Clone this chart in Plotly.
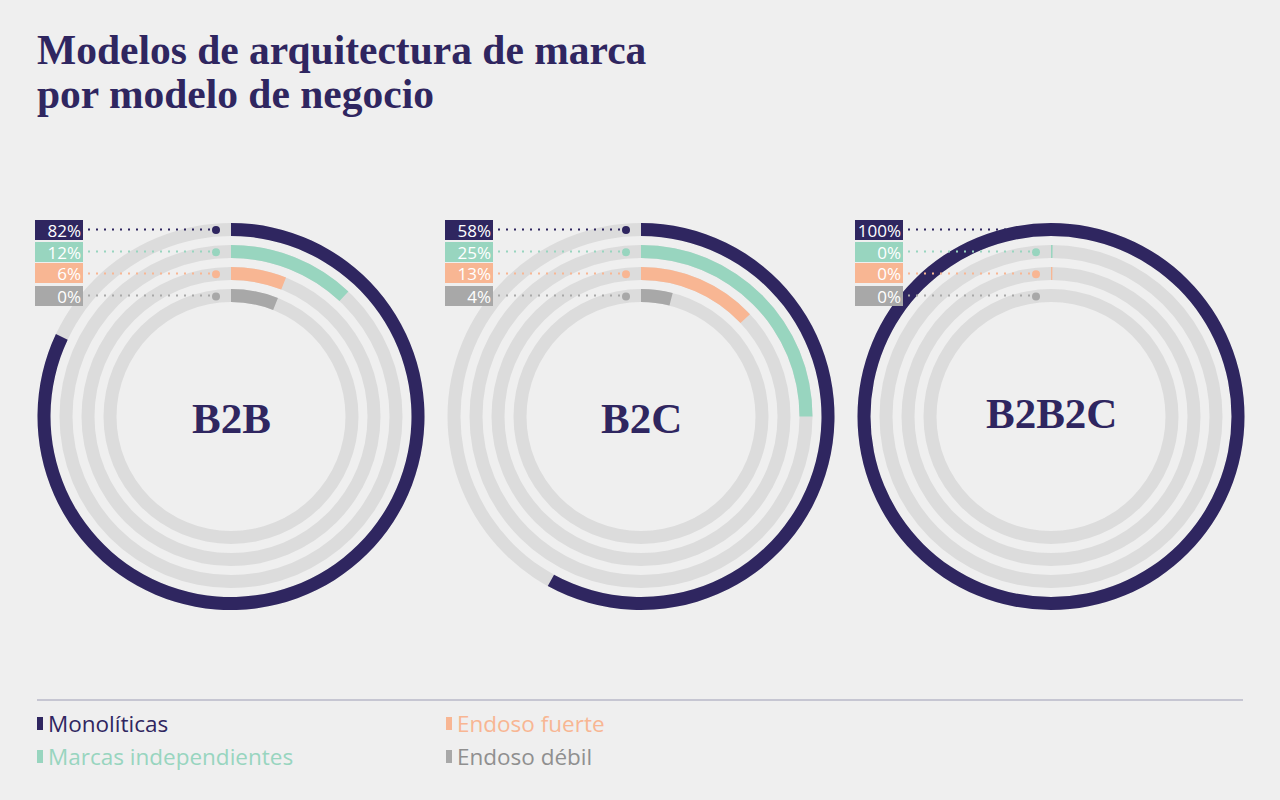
import math
import plotly.graph_objects as go

# ---------------- data ----------------
title_lines = ["Modelos de arquitectura de marca", "por modelo de negocio"]
models = ["B2B", "B2C", "B2B2C"]
series = ["Monolíticas", "Marcas independientes", "Endoso fuerte", "Endoso débil"]

# percentages printed in the label boxes
b2b_labels = [82, 12, 6, 0]
b2c_labels = [58, 25, 13, 4]
b2b2c_labels = [100, 0, 0, 0]

# arc lengths as drawn (percent of full circle)
b2b_arcs = [82, 12, 6, 6]
b2c_arcs = [58, 25, 13, 4]
b2b2c_arcs = [100, 0.15, 0.15, 0]

# ---------------- style ----------------
W, H = 1280, 800
BG = "#efefef"
NAVY = "#2f2660"
GREEN = "#98d5bf"
ORANGE = "#f8b693"
GRAY = "#a8a8a8"
TRACK = "#dcdcdc"
series_colors = [NAVY, GREEN, ORANGE, GRAY]
legend_text_colors = [NAVY, GREEN, ORANGE, "#8f8f8f"]

SERIF = "Liberation Serif"
SANS = "Open Sans"

centers_x = [231, 641, 1051]
center_y = 416.5
ring_r = [187, 165, 143, 121]
ring_w = 13
R_AX = 200
DOT_DX = 15
model_text_y = [418, 418, 413]

labels_all = [b2b_labels, b2c_labels, b2b2c_labels]
arcs_all = [b2b_arcs, b2c_arcs, b2b2c_arcs]


def px(x):
    return x / W


def py(y):
    return 1 - y / H


fig = go.Figure()
layout_polars = {}
shapes = []
annotations = []

for i, m in enumerate(models):
    sp = "polar" if i == 0 else f"polar{i + 1}"
    cx = centers_x[i]
    bases = [rr - ring_w / 2 for rr in ring_r]
    # background tracks
    fig.add_trace(go.Barpolar(
        r=[ring_w] * 4, base=bases, theta=[180] * 4, width=[360] * 4,
        marker=dict(color=TRACK, line=dict(width=0)),
        subplot=sp, showlegend=False, hoverinfo="skip"))
    # value arcs
    vals = arcs_all[i]
    fig.add_trace(go.Barpolar(
        r=[ring_w] * 4, base=bases,
        theta=[v * 3.6 / 2 for v in vals], width=[v * 3.6 for v in vals],
        marker=dict(color=series_colors, line=dict(width=0)),
        subplot=sp, showlegend=False,
        customdata=labels_all[i], hovertemplate="%{customdata}%<extra></extra>"))
    # leader-line end dots
    fig.add_trace(go.Scatterpolar(
        r=ring_r, theta=[-math.degrees(math.asin(DOT_DX / rr)) for rr in ring_r],
        mode="markers", marker=dict(size=8, color=series_colors, line=dict(width=0)),
        subplot=sp, showlegend=False, hoverinfo="skip"))

    layout_polars[sp] = dict(
        domain=dict(x=[px(cx - R_AX), px(cx + R_AX)],
                    y=[py(center_y + R_AX), py(center_y - R_AX)]),
        bgcolor="rgba(0,0,0,0)",
        barmode="overlay",
        radialaxis=dict(range=[0, R_AX], visible=False),
        angularaxis=dict(rotation=90, direction="clockwise", visible=False),
    )

    # label boxes + dotted leaders
    for k, rr in enumerate(ring_r):
        yk = center_y - rr
        box_right = cx - 148
        annotations.append(dict(
            x=px(box_right), y=py(yk), xref="paper", yref="paper",
            xanchor="right", yanchor="middle", showarrow=False,
            text=f"{labels_all[i][k]}%", align="right",
            width=44, height=16, borderpad=1, borderwidth=1, bordercolor=series_colors[k],
            bgcolor=series_colors[k],
            font=dict(family=SANS, size=17, color="white")))
        shapes.append(dict(
            type="line", xref="paper", yref="paper",
            x0=px(box_right + 5), x1=px(cx - DOT_DX), y0=py(yk), y1=py(yk),
            line=dict(color=series_colors[k], width=2, dash="2px,6px")))

    # model name in the centre
    annotations.append(dict(
        x=px(cx), y=py(model_text_y[i]), xref="paper", yref="paper",
        xanchor="center", yanchor="middle", showarrow=False, text=f"<b>{m}</b>",
        font=dict(family=SERIF, size=43, color=NAVY)))

# title
for j, t in enumerate(title_lines):
    annotations.append(dict(
        x=px(35), y=py(75 + 44 * j), xref="paper", yref="paper",
        xanchor="left", yanchor="bottom", showarrow=False, text=f"<b>{t}</b>",
        font=dict(family=SERIF, size=41.5, color=NAVY)))

# legend rule
shapes.append(dict(type="line", xref="paper", yref="paper",
                   x0=px(37), x1=px(1243), y0=py(700), y1=py(700),
                   line=dict(color="#b9b9c8", width=1.5)))

legend_pos = [(37, 723), (37, 756), (446, 723), (446, 756)]
for k, name in enumerate(series):
    lx, ly = legend_pos[k]
    shapes.append(dict(type="rect", xref="paper", yref="paper",
                       x0=px(lx), x1=px(lx + 6), y0=py(ly - 6), y1=py(ly + 7),
                       fillcolor=series_colors[k], line=dict(width=0)))
    annotations.append(dict(
        x=px(lx + 9), y=py(ly), xref="paper", yref="paper",
        xanchor="left", yanchor="middle", showarrow=False, text=name,
        font=dict(family=SANS, size=22.5, color=legend_text_colors[k])))

fig.update_layout(
    width=W, height=H,
    margin=dict(l=0, r=0, t=0, b=0),
    paper_bgcolor=BG, plot_bgcolor=BG,
    showlegend=False,
    shapes=shapes,
    annotations=annotations,
    **layout_polars,
)

fig.write_html(
    "out.html",
    config={"displayModeBar": False},
    post_script="document.body.style.margin='0';document.body.style.overflow='hidden';"
                "document.body.style.background='" + BG + "';",
)
